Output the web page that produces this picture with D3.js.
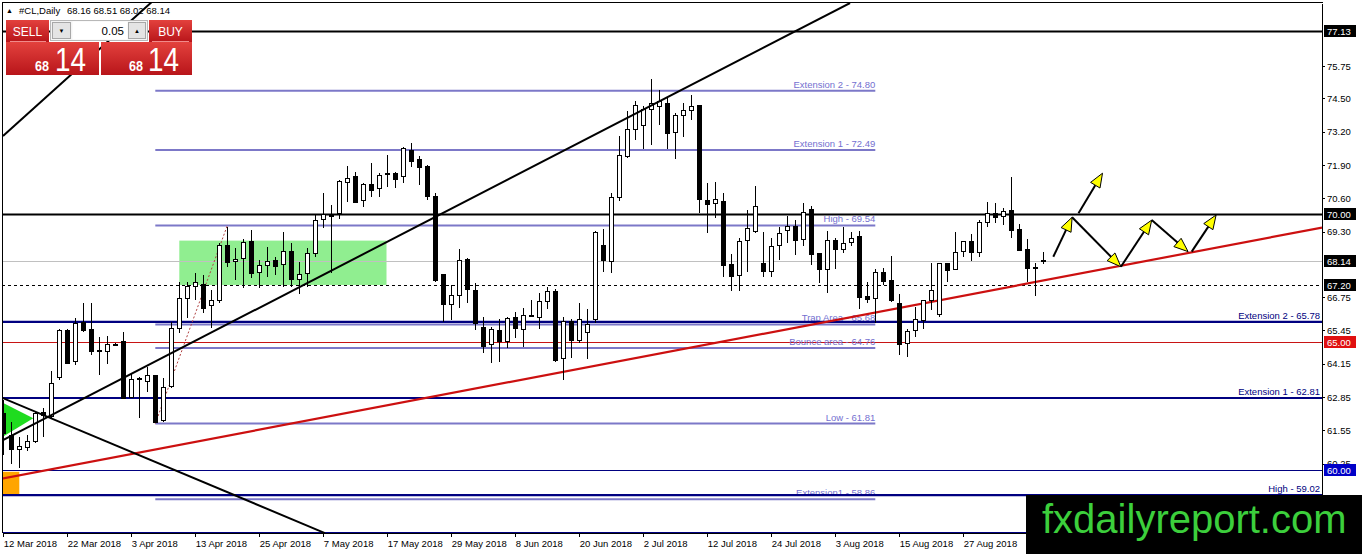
<!DOCTYPE html>
<meta charset="utf-8">
<head>
  <script src="https://cdn.jsdelivr.net/npm/d3@7"></script>
  <style>
    body { margin: 0; background: #fff; }
    svg { display: block; font-family: "Liberation Sans", Arial, sans-serif; }
    .axis text { font-size: 9.5px; fill: #000; }
    .axis path, .axis line { stroke: #000; shape-rendering: crispEdges; }
  </style>
</head>
<body>
<script>

// tick labels
var dateLabels = ["12 Mar 2018","22 Mar 2018","3 Apr 2018","13 Apr 2018","25 Apr 2018","7 May 2018",
  "17 May 2018","29 May 2018","8 Jun 2018","20 Jun 2018","2 Jul 2018","12 Jul 2018","24 Jul 2018",
  "3 Aug 2018","15 Aug 2018","27 Aug 2018"];
var priceTicks = [75.75,74.50,73.20,71.90,70.60,69.30,66.75,65.45,64.15,62.85,61.55,60.25];

// daily candles (bar 0 = 12 Mar 2018)
var opens = [62.22,61.33,60.81,60.89,61.10,62.26,62.08,63.62,65.46,64.23,65.76,65.49,64.68,64.62,64.86,65.01,62.84,63.54,63.45,63.67,
  61.95,63.25,65.53,66.70,67.15,67.22,66.40,66.61,68.74,68.13,68.26,68.93,67.70,67.97,68.19,68.03,68.52,67.44,67.65,68.45,
  69.78,69.95,70.02,71.23,71.44,70.51,71.12,70.99,71.56,71.58,71.44,72.46,72.10,71.83,70.66,67.61,66.47,66.80,68.23,67.02,
  65.57,64.88,65.46,65.01,65.96,65.49,65.99,65.96,66.59,66.98,64.36,65.79,65.04,65.36,65.88,68.74,68.13,70.64,72.22,73.30,
  73.46,74.07,74.20,74.31,73.18,73.85,74.01,74.24,70.51,70.38,70.47,68.00,67.57,68.95,69.32,68.06,67.76,68.74,69.36,69.49,
  69.00,70.17,68.43,67.83,68.95,68.61,68.87,69.10,66.76,66.70,67.70,67.41,66.50,64.92,65.46,65.83,66.61,66.05,68.04,67.83,
  68.54,68.91,68.48,69.65,69.99,69.91,70.14,69.39,68.61,67.85,68.16];
var highs = [62.73,61.88,61.30,61.37,62.26,62.42,63.86,65.49,65.49,65.92,66.52,66.50,65.20,65.23,64.95,65.37,63.80,63.62,64.03,63.71,
  63.58,65.79,67.35,67.35,67.70,67.61,67.02,68.85,69.49,68.65,69.00,69.36,68.19,68.71,68.32,69.30,68.85,68.13,68.65,69.95,
  70.82,70.34,71.31,71.86,71.64,71.19,71.97,71.60,72.29,71.64,72.59,72.77,72.25,71.90,70.80,67.65,67.22,68.61,68.26,67.28,
  65.98,65.59,65.88,65.98,66.18,66.31,66.63,66.92,67.15,67.05,65.98,65.88,66.50,66.27,69.34,69.39,70.82,73.03,74.02,74.41,
  74.20,75.24,74.83,74.54,73.94,74.31,74.63,74.25,71.19,71.24,70.80,68.43,69.04,70.14,71.08,69.30,69.04,69.49,69.91,69.75,
  70.41,70.30,68.46,69.33,69.04,69.47,69.30,69.34,67.35,67.83,67.87,68.35,66.87,65.49,66.35,66.63,68.09,68.09,68.04,69.30,
  68.95,69.21,69.75,70.47,70.41,70.21,71.42,69.60,69.00,68.09,68.51];
var lows = [60.59,60.23,60.07,60.75,61.05,61.29,62.02,63.51,64.14,64.10,65.38,64.49,63.71,64.14,64.82,62.78,62.80,62.02,63.06,61.82,
  61.88,63.20,65.33,65.92,66.63,66.11,65.53,66.50,67.93,67.41,67.09,67.48,67.09,67.54,67.61,67.15,67.15,66.87,67.15,68.32,
  69.43,67.67,69.78,70.47,70.41,70.25,70.66,70.64,71.05,70.99,71.21,71.83,71.12,70.53,67.35,65.79,65.85,66.31,66.53,65.46,
  64.55,64.19,64.23,64.75,65.14,64.81,65.97,65.49,66.27,64.23,63.51,64.36,64.94,64.32,65.72,67.74,67.70,70.51,72.16,72.88,
  72.51,72.70,73.46,72.51,72.12,72.98,73.66,70.02,69.24,69.82,67.54,67.00,67.00,67.74,69.26,67.54,67.54,68.19,68.87,68.39,
  68.74,68.00,67.28,66.89,67.83,68.46,68.74,66.27,66.50,65.72,67.22,66.57,64.49,64.40,65.20,65.49,66.24,65.96,67.35,67.80,
  68.30,68.17,68.30,69.49,69.63,69.56,69.04,68.56,67.35,66.79,68.02];
var closes = [61.44,60.81,60.91,61.10,62.21,62.11,63.38,65.46,64.16,65.72,65.44,64.62,64.62,64.88,64.88,62.80,63.54,63.56,63.68,61.85,
  63.23,65.53,66.70,67.15,67.31,66.31,66.61,68.74,68.09,68.23,68.88,67.67,67.99,68.13,67.93,68.52,67.44,67.64,68.45,69.75,
  69.98,69.90,71.25,71.38,70.43,71.12,70.92,71.51,71.58,71.34,72.55,72.03,71.81,70.66,67.41,66.44,66.80,68.17,67.05,65.72,
  64.81,65.49,65.01,65.92,65.53,66.02,66.01,66.57,66.98,64.29,65.79,65.04,65.88,65.66,69.27,68.17,70.64,72.29,73.27,74.24,
  74.05,74.31,74.37,73.11,73.85,74.01,74.20,70.56,70.34,70.56,67.96,67.54,68.93,69.43,70.30,67.74,68.71,69.24,69.52,68.97,
  70.04,68.39,67.83,68.95,68.61,68.85,69.04,66.74,66.66,67.70,67.35,66.61,64.88,65.40,65.88,66.61,67.02,68.06,67.78,68.48,
  68.91,68.48,69.65,69.99,69.86,70.08,69.34,68.58,67.87,67.89,68.14];

// horizontal levels
var levelPrices = [77.13, 70.00, 68.14, 67.20, 65.00, 60.00];
var fibLevels = [74.80, 72.49, 69.54, 65.68, 64.76, 61.81, 58.86];
var fibNames = ["Extension 2", "Extension 1", "High", "Trap Area", "Bounce area", "Low", "Extension1"];
var extLevels = [65.78, 62.81, 59.02, 57.54];
var extNames = ["Extension 2", "Extension 1", "High", ""];

// drawn objects, [bar, price]
var trendUp = [[-0.41, 61.11], [105.84, 78.22]];
var trendTopLeft = [[-0.04, 73.03], [18.7, 78.3]];
var trendDown = [[-0.41, 62.85], [40.2, 57.54]];
var trendRed = [[-0.41, 59.65], [164.84, 69.46]];
var fibDiag = [[19, 61.81], [28, 69.54]];
var greenBox = [[22, 67.22], [47.9, 68.95]];
var orangeBox = [[-0.07, 59.02], [2.0, 59.93]];
var greenTri = [[-0.07, 62.62], [-0.07, 61.30], [3.75, 62.02]];
var arrowSegs = [
  [[131.25, 68.32], [133.6, 69.86]],
  [[134.4, 70.02], [137.4, 71.58]],
  [[133.6, 69.86], [139.7, 67.93]],
  [[139.7, 67.93], [143.55, 69.75]],
  [[143.55, 69.75], [148.1, 68.52]],
  [[148.55, 68.52], [151.6, 69.95]]
];

var W = 1362, H = 554;
var svg = d3.select("body").append("svg").attr("width", W).attr("height", H);
svg.append("rect").attr("width", W).attr("height", H).attr("fill", "#fff");
var defs = svg.append("defs");
defs.append("clipPath").attr("id", "plot")
  .append("rect").attr("x", 2).attr("y", 3).attr("width", 1320).attr("height", 530);

var x = d3.scaleLinear().domain([-0.1625, 164.8375]).range([2, 1322]);
var y = d3.scaleLinear().domain([57.542, 78.221]).range([533, 3]);

var g = svg.append("g").attr("clip-path", "url(#plot)");

function rectFrom(b, fill) {
  g.append("rect")
    .attr("x", x(b[0][0])).attr("y", y(b[1][1]))
    .attr("width", x(b[1][0]) - x(b[0][0]))
    .attr("height", y(b[0][1]) - y(b[1][1]))
    .attr("fill", fill);
}
rectFrom(greenBox, "#90ee90");
rectFrom(orangeBox, "#ffa500");

g.append("polygon")
  .attr("points", greenTri.map(function(d) { return x(d[0]) + "," + y(d[1]); }).join(" "))
  .attr("fill", "#1fdc1f");

// plain levels
var levelStroke = ["#000", "#000", "#c0c0c0", "#000", "#c81414", "#000080"];
var levelWidth = [2, 2, 1, 1, 1, 1];
g.selectAll(".lvl").data(levelPrices).enter().append("line")
  .attr("x1", 2).attr("x2", 1322)
  .attr("y1", function(d) { return Math.round(y(d)) + 0.5; })
  .attr("y2", function(d) { return Math.round(y(d)) + 0.5; })
  .attr("stroke", function(d, i) { return levelStroke[i]; })
  .attr("stroke-width", function(d, i) { return levelWidth[i]; })
  .attr("stroke-dasharray", function(d, i) { return i == 3 ? "3,3" : null; });

// fibo levels
g.selectAll(".fib").data(fibLevels).enter().append("line")
  .attr("x1", x(19)).attr("x2", x(109))
  .attr("y1", function(d) { return y(d); })
  .attr("y2", function(d) { return y(d); })
  .attr("stroke", "#7c78c8").attr("stroke-width", 2);
g.selectAll(".fibt").data(fibLevels).enter().append("text")
  .attr("x", x(109)).attr("y", function(d) { return y(d) - 3; })
  .attr("text-anchor", "end").attr("font-size", "9.5px").attr("fill", "#7470d0")
  .text(function(d, i) { return fibNames[i] + " - " + d.toFixed(2); });

// extension levels
g.selectAll(".ext").data(extLevels).enter().append("line")
  .attr("x1", 2).attr("x2", 1322)
  .attr("y1", function(d) { return y(d); })
  .attr("y2", function(d) { return y(d); })
  .attr("stroke", "#000080").attr("stroke-width", 2.2);
g.selectAll(".extt").data(extLevels.slice(0, 3)).enter().append("text")
  .attr("x", 1320).attr("y", function(d) { return y(d) - 3; })
  .attr("text-anchor", "end").attr("font-size", "9.5px").attr("fill", "#000080")
  .text(function(d, i) { return extNames[i] + " - " + d.toFixed(2); });

// trend lines
function seg(p, stroke, w, dash) {
  g.append("line")
    .attr("x1", x(p[0][0])).attr("y1", y(p[0][1]))
    .attr("x2", x(p[1][0])).attr("y2", y(p[1][1]))
    .attr("stroke", stroke).attr("stroke-width", w)
    .attr("stroke-dasharray", dash || null);
}
seg(trendRed, "#cc1010", 2.2);
seg(fibDiag, "#b04040", 1, "2,2");

// candles
var idx = d3.range(opens.length);
var cg = g.append("g").attr("shape-rendering", "crispEdges");
cg.selectAll(".wick").data(idx).enter().append("line")
  .attr("x1", function(i) { return Math.round(x(i)) + 0.5; })
  .attr("x2", function(i) { return Math.round(x(i)) + 0.5; })
  .attr("y1", function(i) { return y(highs[i]); })
  .attr("y2", function(i) { return y(lows[i]); })
  .attr("stroke", "#000");
cg.selectAll(".body").data(idx).enter().append("rect")
  .attr("x", function(i) { return Math.round(x(i)) - 2 + 0.5; })
  .attr("width", 4)
  .attr("y", function(i) { return y(Math.max(opens[i], closes[i])); })
  .attr("height", function(i) { return Math.max(1, Math.abs(y(opens[i]) - y(closes[i]))); })
  .attr("fill", function(i) { return closes[i] >= opens[i] ? "#fff" : "#000"; })
  .attr("stroke", "#000");

seg(trendUp, "#000", 2);
seg(trendTopLeft, "#000", 2);
seg(trendDown, "#000", 2);

// arrows
arrowSegs.forEach(function(a) {
  var x0 = x(a[0][0]), y0 = y(a[0][1]), x1 = x(a[1][0]), y1 = y(a[1][1]);
  var dx = x1 - x0, dy = y1 - y0, len = Math.sqrt(dx * dx + dy * dy);
  var ux = dx / len, uy = dy / len, hl = 14, hw = 5.5;
  g.append("line").attr("x1", x0).attr("y1", y0)
    .attr("x2", x1 - ux * hl).attr("y2", y1 - uy * hl)
    .attr("stroke", "#000").attr("stroke-width", 2);
  var bx = x1 - ux * hl, by = y1 - uy * hl;
  g.append("polygon")
    .attr("points", [[x1, y1], [bx - uy * hw, by + ux * hw], [bx + uy * hw, by - ux * hw]].join(" "))
    .attr("fill", "#ffff00").attr("stroke", "#000").attr("stroke-width", 1);
});

// axes
svg.append("g").attr("class", "axis")
  .attr("transform", "translate(0,533)")
  .call(d3.axisBottom(x).tickValues(d3.range(0, 121, 8))
    .tickFormat(function(d, i) { return dateLabels[i]; })
    .tickSize(4).tickSizeOuter(0))
  .selectAll("text").attr("text-anchor", "start").attr("x", 0).attr("y", 7);

svg.append("g").attr("class", "axis")
  .attr("transform", "translate(1322,0)")
  .call(d3.axisRight(y).tickValues(priceTicks).tickFormat(d3.format(".2f"))
    .tickSize(3).tickPadding(2).tickSizeOuter(0));

// frame
svg.append("path").attr("d", "M2.5,533V2.5H1322.5")
  .attr("fill", "none").attr("stroke", "#000").attr("shape-rendering", "crispEdges");

// price tags
var tagFill = ["#000", "#000", "#000", "#000", "#e01010", "#0000c8"];
var tags = svg.selectAll(".tag").data(levelPrices).enter().append("g")
  .attr("transform", function(d) { return "translate(1324," + Math.round(y(d)) + ")"; });
tags.append("rect").attr("x", 0).attr("y", -6).attr("width", 32).attr("height", 12)
  .attr("fill", function(d, i) { return tagFill[i]; });
tags.append("text").attr("x", 3).attr("y", 3.5).attr("font-size", "9.5px").attr("fill", "#fff")
  .text(function(d) { return d.toFixed(2); });

// title
svg.append("text").attr("x", 6).attr("y", 13).attr("font-size", "7px").text("\u25B2");
svg.append("text").attr("x", 19).attr("y", 14).attr("font-size", "9.5px").text("#CL,Daily");
svg.append("text").attr("x", 67).attr("y", 14).attr("font-size", "9.5px")
  .text(opens[130].toFixed(2) + " " + highs[130].toFixed(2) + " " + lows[130].toFixed(2) + " " + closes[130].toFixed(2));

// one-click trading panel
var grad = defs.append("linearGradient").attr("id", "red").attr("x1", 0).attr("y1", 0).attr("x2", 0).attr("y2", 1);
grad.append("stop").attr("offset", "0%").attr("stop-color", "#e3413d");
grad.append("stop").attr("offset", "100%").attr("stop-color", "#b8151a");
var p = svg.append("g");
p.append("rect").attr("x", 6).attr("y", 20).attr("width", 43).attr("height", 22).attr("fill", "url(#red)");
p.append("rect").attr("x", 149).attr("y", 20).attr("width", 43).attr("height", 22).attr("fill", "url(#red)");
p.append("rect").attr("x", 6).attr("y", 42).attr("width", 93).attr("height", 33).attr("fill", "url(#red)");
p.append("rect").attr("x", 101).attr("y", 42).attr("width", 91).attr("height", 33).attr("fill", "url(#red)");
p.append("line").attr("x1", 10).attr("x2", 46).attr("y1", 41.5).attr("y2", 41.5).attr("stroke", "#f08a8a");
p.append("line").attr("x1", 152).attr("x2", 189).attr("y1", 41.5).attr("y2", 41.5).attr("stroke", "#f08a8a");
p.append("rect").attr("x", 50.5).attr("y", 20.5).attr("width", 97).attr("height", 20)
  .attr("fill", "#f4f4f4").attr("stroke", "#b8b8b8");
p.append("rect").attr("x", 52.5).attr("y", 22.5).attr("width", 18).attr("height", 16)
  .attr("fill", "#e4e4e4").attr("stroke", "#a8a8a8");
p.append("rect").attr("x", 72.5).attr("y", 21.5).attr("width", 55).attr("height", 18).attr("fill", "#fff");
p.append("rect").attr("x", 128.5).attr("y", 22.5).attr("width", 17).attr("height", 16)
  .attr("fill", "#e4e4e4").attr("stroke", "#a8a8a8");
p.append("text").attr("x", 61.5).attr("y", 33).attr("font-size", "6px").attr("text-anchor", "middle").text("\u25BC");
p.append("text").attr("x", 137).attr("y", 33).attr("font-size", "6px").attr("text-anchor", "middle").text("\u25B2");
p.append("text").attr("x", 124).attr("y", 35).attr("font-size", "11.5px").attr("text-anchor", "end").text("0.05");
p.append("text").attr("x", 27.5).attr("y", 36).attr("font-size", "12px").attr("fill", "#fff")
  .attr("text-anchor", "middle").text("SELL");
p.append("text").attr("x", 170.5).attr("y", 36).attr("font-size", "12px").attr("fill", "#fff")
  .attr("text-anchor", "middle").text("BUY");
[[35, 55], [129, 148]].forEach(function(pos) {
  p.append("text").attr("x", pos[0]).attr("y", 70.5).attr("font-size", "15px").attr("font-weight", "bold")
    .attr("fill", "#fff").attr("textLength", 14).attr("lengthAdjust", "spacingAndGlyphs").text("68");
  p.append("text").attr("x", pos[1]).attr("y", 70.5).attr("font-size", "33px")
    .attr("fill", "#fff").attr("textLength", 31).attr("lengthAdjust", "spacingAndGlyphs").text("14");
});

// watermark
svg.append("rect").attr("x", 1026).attr("y", 495).attr("width", 336).attr("height", 59).attr("fill", "#000");
svg.append("text").attr("x", 1042).attr("y", 533).attr("font-size", "40px").attr("fill", "#3ccf3c")
  .text("fxdailyreport.com");

</script>
</body>
